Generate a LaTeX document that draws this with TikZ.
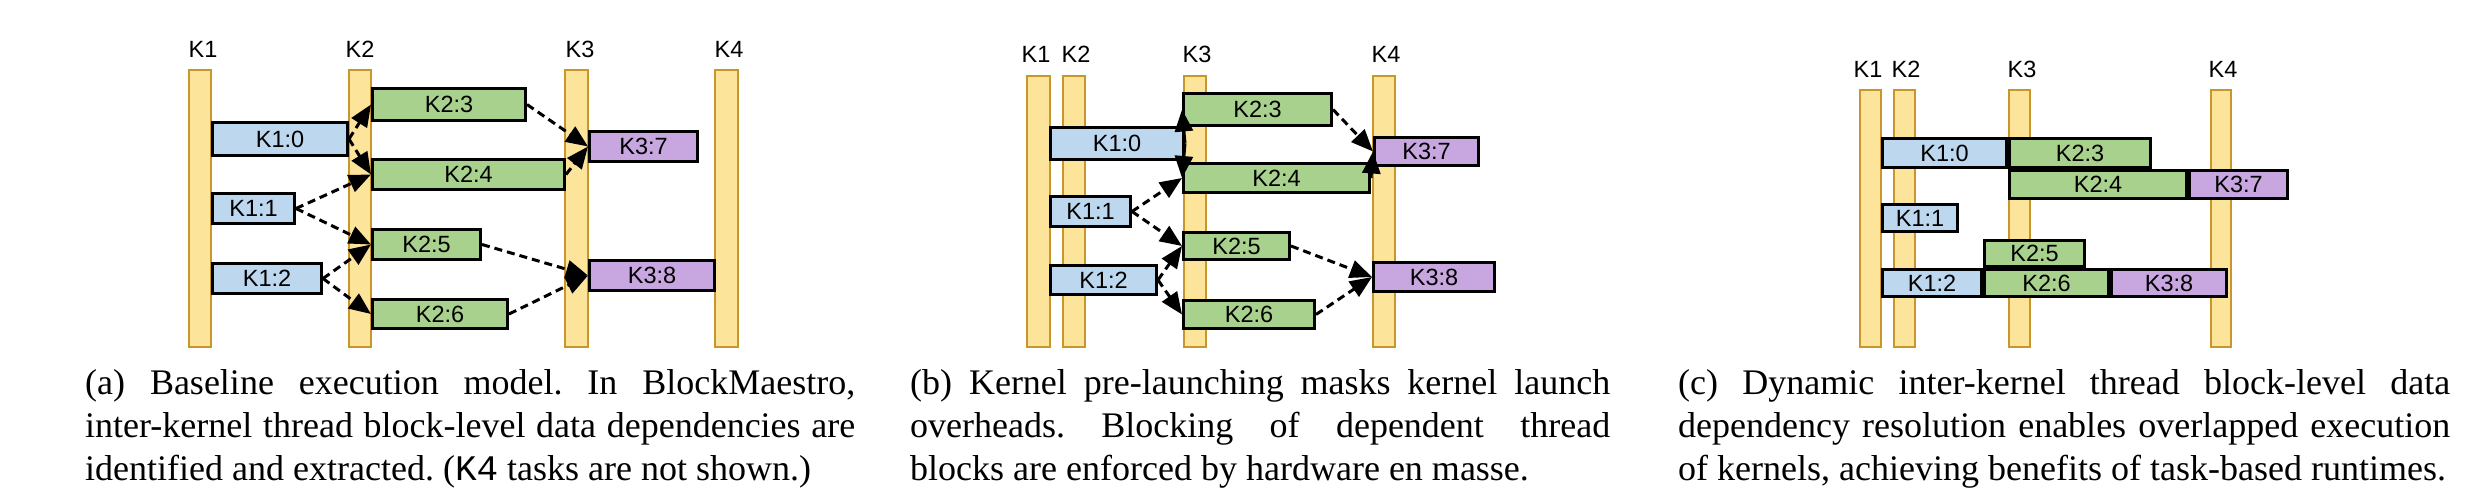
\documentclass[tikz,border=0pt]{standalone}
\usepackage{fontspec}
\setmainfont{Liberation Serif}
\newfontfamily\arialf{Liberation Sans}
\newfontfamily\courf{Liberation Mono}
\usetikzlibrary{arrows.meta}
\frenchspacing
\definecolor{barfill}{HTML}{FCE49B}
\definecolor{bardraw}{HTML}{C8962A}
\definecolor{kblue}{HTML}{BDD7EE}
\definecolor{kgreen}{HTML}{A9D18E}
\definecolor{kpurple}{HTML}{C8A6E0}
\tikzset{
  kbar/.style={draw=bardraw, fill=barfill, line width=2pt, inner sep=0pt},
  kbox/.style={draw=black, line width=3pt, inner sep=0pt, font=\arialf\fontsize{23.5}{28}\selectfont},
  klab/.style={anchor=base, inner sep=0pt, font=\arialf\fontsize{23.5}{28}\selectfont},
  dep/.style={line width=3pt, dash pattern=on 8pt off 5pt, -{Triangle[length=22pt,width=18pt]}},
  solidarr/.style={line width=3pt, -{Triangle[length=22pt,width=18pt]}},
  capt/.style={anchor=north west, inner sep=0pt, align=justify, font=\fontsize{36}{43}\selectfont\frenchspacing}
}
% bar: name, x1, y1, x2, y2
\newcommand\mkbar[5]{\node[kbar, minimum width={#4-#2-2}, minimum height={#5-#3-2}] (#1) at ({(#2+#4)/2},{(#3+#5)/2}) {};}
% box: name, colour, x1, y1, x2, y2, text
\newcommand\mkbx[7]{\node[kbox, fill=#2, minimum width={#5-#3-3}, minimum height={#6-#4-3}] (#1) at ({(#3+#5)/2},{(#4+#6)/2}) {#7};}
\begin{document}
\begin{tikzpicture}[x=1pt, y=-1pt]
\useasboundingbox (0,0) rectangle (2474,500);
% ---------------- panel (a) ----------------
\mkbar{aB1}{188}{69}{212}{348}
\mkbar{aB2}{348}{69}{372}{348}
\mkbar{aB3}{564}{69}{589}{348}
\mkbar{aB4}{714}{69}{739}{348}
\node[klab] (aL1) at (203,58) {K1};
\node[klab] (aL2) at (360,58) {K2};
\node[klab] (aL3) at (580,58) {K3};
\node[klab] (aL4) at (729,58) {K4};
\mkbx{a10}{kblue}{211}{121}{349}{157}{K1:0}
\mkbx{a11}{kblue}{211}{192}{296}{225}{K1:1}
\mkbx{a12}{kblue}{211}{262}{323}{295}{K1:2}
\mkbx{a23}{kgreen}{371}{87}{527}{122}{K2:3}
\mkbx{a24}{kgreen}{371}{158}{566}{191}{K2:4}
\mkbx{a25}{kgreen}{371}{228}{482}{261}{K2:5}
\mkbx{a26}{kgreen}{371}{298}{509}{330}{K2:6}
\mkbx{a37}{kpurple}{588}{130}{699}{163}{K3:7}
\mkbx{a38}{kpurple}{588}{259}{716}{292}{K3:8}
\draw[dep] (a10.east) -- (a23.west);
\draw[dep] (a10.east) -- (a24.west);
\draw[dep] (a11.east) -- (a24.west);
\draw[dep] (a11.east) -- (a25.west);
\draw[dep] (a12.east) -- (a25.west);
\draw[dep] (a12.east) -- (a26.west);
\draw[dep] (a23.east) -- (a37.west);
\draw[dep] (a24.east) -- (a37.west);
\draw[dep] (a25.east) -- (a38.west);
\draw[dep] (a26.east) -- (a38.west);
% ---------------- panel (b) ----------------
\mkbar{bB1}{1026}{75}{1051}{348}
\mkbar{bB2}{1062}{75}{1086}{348}
\mkbar{bB3}{1183}{75}{1207}{348}
\mkbar{bB4}{1372}{75}{1396}{348}
\node[klab] (bL1) at (1036,63) {K1};
\node[klab] (bL2) at (1076,63) {K2};
\node[klab] (bL3) at (1197,63) {K3};
\node[klab] (bL4) at (1386,63) {K4};
\mkbx{b10}{kblue}{1049}{126}{1185}{161}{K1:0}
\mkbx{b11}{kblue}{1049}{195}{1132}{228}{K1:1}
\mkbx{b12}{kblue}{1049}{264}{1158}{296}{K1:2}
\mkbx{b23}{kgreen}{1182}{92}{1333}{127}{K2:3}
\mkbx{b24}{kgreen}{1182}{162}{1371}{194}{K2:4}
\mkbx{b25}{kgreen}{1182}{231}{1291}{261}{K2:5}
\mkbx{b26}{kgreen}{1182}{299}{1316}{330}{K2:6}
\mkbx{b37}{kpurple}{1373}{136}{1480}{167}{K3:7}
\mkbx{b38}{kpurple}{1372}{261}{1496}{293}{K3:8}
\draw[solidarr] (b10.east) -- (b23.west);
\draw[solidarr] (b10.east) -- (b24.west);
\draw[dep] (b11.east) -- (b24.west);
\draw[dep] (b11.east) -- (b25.west);
\draw[dep] (b12.east) -- (b25.west);
\draw[dep] (b12.east) -- (b26.west);
\draw[dep] (b23.east) -- (b37.west);
\draw[solidarr] (b24.east) -- (b37.west);
\draw[dep] (b25.east) -- (b38.west);
\draw[dep] (b26.east) -- (b38.west);
% ---------------- panel (c) ----------------
\mkbar{cB1}{1859}{89}{1882}{348}
\mkbar{cB2}{1893}{89}{1916}{348}
\mkbar{cB3}{2008}{89}{2031}{348}
\mkbar{cB4}{2210}{89}{2232}{348}
\node[klab] (cL1) at (1868,78) {K1};
\node[klab] (cL2) at (1906,78) {K2};
\node[klab] (cL3) at (2022,78) {K3};
\node[klab] (cL4) at (2223,78) {K4};
\mkbx{c10}{kblue}{1881}{137}{2008}{169}{K1:0}
\mkbx{c23}{kgreen}{2008}{137}{2152}{169}{K2:3}
\mkbx{c24}{kgreen}{2008}{169}{2188}{200}{K2:4}
\mkbx{c37}{kpurple}{2188}{169}{2289}{200}{K3:7}
\mkbx{c11}{kblue}{1881}{203}{1959}{233}{K1:1}
\mkbx{c25}{kgreen}{1983}{239}{2086}{268}{K2:5}
\mkbx{c12}{kblue}{1881}{268}{1983}{298}{K1:2}
\mkbx{c26}{kgreen}{1983}{268}{2110}{298}{K2:6}
\mkbx{c38}{kpurple}{2110}{268}{2228}{298}{K3:8}
% ---------------- captions ----------------
\node[capt, text width=770pt] (capa) at (85,369) {(a) Baseline execution model. In BlockMaestro,\linebreak inter-kernel thread block-level data dependencies are\linebreak identified and extracted. ({\courf K4} tasks are not shown.)};
\node[capt, text width=700pt] (capb) at (910,369) {(b) Kernel pre-launching masks kernel launch\linebreak overheads. Blocking of dependent thread\linebreak blocks are enforced by hardware en masse.};
\node[capt, text width=772pt] (capc) at (1678,369) {(c) Dynamic inter-kernel thread block-level data\linebreak dependency resolution enables overlapped execution\linebreak of kernels, achieving benefits of task-based runtimes.};
\end{tikzpicture}
\end{document}
